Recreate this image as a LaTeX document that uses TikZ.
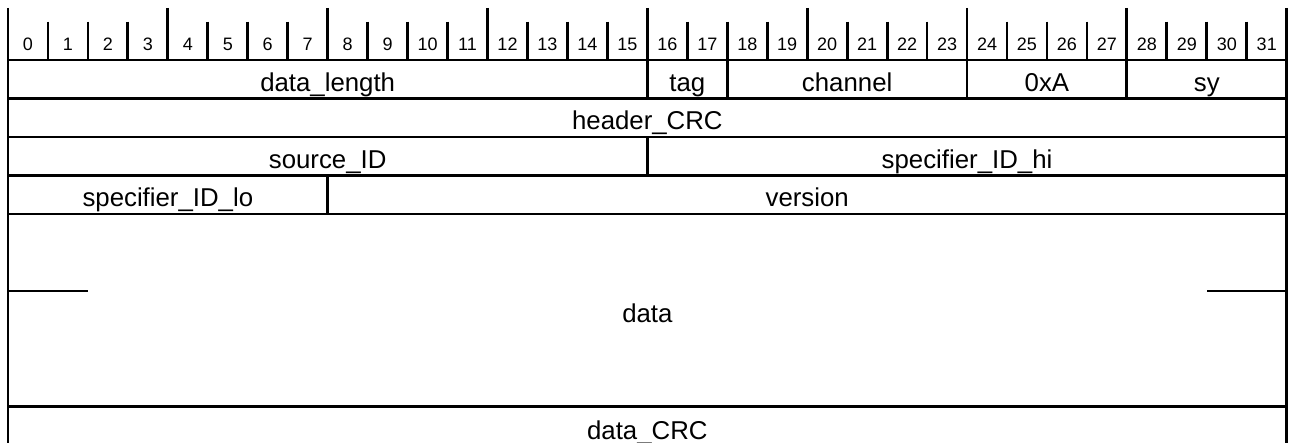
\documentclass[tikz,border=0pt]{standalone}
\usepackage{fontspec}
\setmainfont{Liberation Sans}
\begin{document}
\begin{tikzpicture}[x=1pt,y=-1pt,
  rule/.style={line width=2.8pt, black},
  bitnum/.style={anchor=base, inner sep=0pt, font=\fontsize{18}{20}\selectfont},
  fieldtxt/.style={anchor=base, inner sep=0pt, font=\fontsize{25.8}{30}\selectfont}]
\def\xo{8}
\def\bw{39.96}
\useasboundingbox (0,0) rectangle (1291,443);

% bit numbers
\foreach \i in {0,...,31}
  \node[bitnum] (bit\i) at ({\xo+\bw*(\i+0.5)},50.5) {\i};

% ruler ticks: tall every 4 bits, short in between
\foreach \i in {4,8,...,28}
  \draw[rule] ({\xo+\bw*\i},8) -- ({\xo+\bw*\i},60);
\foreach \i in {1,2,3,5,6,7,9,10,11,13,14,15,17,18,19,21,22,23,25,26,27,29,30,31}
  \draw[rule] ({\xo+\bw*\i},21.7) -- ({\xo+\bw*\i},60);

% outer borders (open at the bottom)
\draw[rule] (\xo,8) -- (\xo,443);
\draw[rule] ({\xo+32*\bw},8) -- ({\xo+32*\bw},443);

% row separators
\foreach \y in {60,98.5,137,175.5,214,406.5}
  \draw[rule] (\xo,\y) -- ({\xo+32*\bw},\y);

% field dividers
\foreach \i in {16,18,24,28}
  \draw[rule] ({\xo+\bw*\i},60) -- ({\xo+\bw*\i},98.5);
\draw[rule] ({\xo+\bw*16},137) -- ({\xo+\bw*16},175.5);
\draw[rule] ({\xo+\bw*8},175.5) -- ({\xo+\bw*8},214);

% variable-length marks on the data block
\coordinate (dl) at (\xo,291);
\coordinate (dr) at ({\xo+32*\bw},291);
\draw[rule] (dl) -- ++({2*\bw},0);
\draw[rule] (dr) -- ++({-2*\bw},0);

% field labels
\node[fieldtxt] (datalength) at ({\xo+\bw*8},91.5) {data\_length};
\node[fieldtxt] (tag) at ({\xo+\bw*17},91.5) {tag};
\node[fieldtxt] (channel) at ({\xo+\bw*21},91.5) {channel};
\node[fieldtxt] (magic) at ({\xo+\bw*26},91.5) {0xA};
\node[fieldtxt] (sy) at ({\xo+\bw*30},91.5) {sy};
\node[fieldtxt] (hcrc) at ({\xo+\bw*16},130) {header\_CRC};
\node[fieldtxt] (src) at ({\xo+\bw*8},168.5) {source\_ID};
\node[fieldtxt] (spechi) at ({\xo+\bw*24},168.5) {specifier\_ID\_hi};
\node[fieldtxt] (speclo) at ({\xo+\bw*4},207) {specifier\_ID\_lo};
\node[fieldtxt] (version) at ({\xo+\bw*20},207) {version};
\node[fieldtxt] (data) at ({\xo+\bw*16},322.5) {data};
\node[fieldtxt] (dcrc) at ({\xo+\bw*16},439) {data\_CRC};
\end{tikzpicture}
\end{document}
